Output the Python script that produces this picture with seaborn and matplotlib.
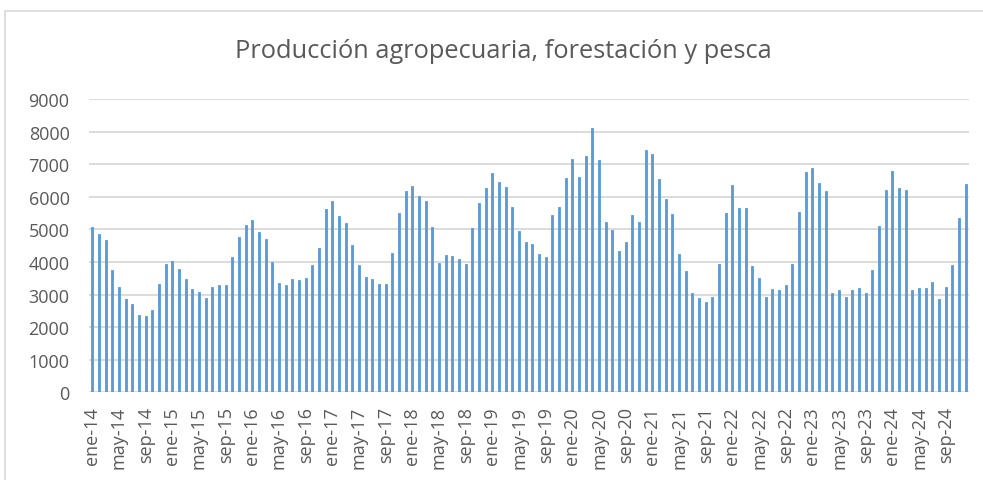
import pandas as pd
import matplotlib.pyplot as plt
from matplotlib.lines import Line2D
import seaborn as sns

# monthly series, ene-14 .. dic-24
meses = ['ene', 'feb', 'mar', 'abr', 'may', 'jun', 'jul', 'ago', 'sep', 'oct', 'nov', 'dic']
anios = list(range(14, 25))
periodos = [f'{m}-{a}' for a in anios for m in meses]

produccion = [
    5077, 4872, 4689, 3749, 3238, 2860, 2697, 2360, 2339, 2533, 3310, 3943,
    4025, 3790, 3483, 3167, 3064, 2891, 3218, 3279, 3279, 4147, 4781, 5138,
    5301, 4934, 4709, 4004, 3340, 3299, 3473, 3432, 3504, 3912, 4443, 5618,
    5873, 5424, 5189, 4535, 3892, 3524, 3483, 3310, 3320, 4290, 5506, 6170,
    6323, 6037, 5873, 5066, 3973, 4229, 4198, 4076, 3933, 5056, 5822, 6282,
    6721, 6466, 6313, 5700, 4954, 4607, 4556, 4259, 4147, 5434, 5700, 6568,
    7160, 6599, 7242, 8100, 7140, 5230, 4985, 4331, 4607, 5434, 5230, 7446,
    7324, 6537, 5945, 5465, 4239, 3718, 3044, 2880, 2758, 2921, 3943, 5506,
    6374, 5669, 5669, 3871, 3514, 2911, 3156, 3126, 3289, 3943, 5526, 6762,
    6895, 6425, 6170, 3054, 3126, 2911, 3136, 3197, 3054, 3749, 5107, 6211,
    6793, 6282, 6221, 3136, 3197, 3187, 3371, 2860, 3238, 3912, 5352, 6405,
]

titulo = 'Producción agropecuaria, forestación y pesca'

df = pd.DataFrame({'periodo': periodos, 'valor': produccion})

sns.set_style('white')
plt.rcParams['font.family'] = ['Open Sans', 'DejaVu Sans']
gris = '#595959'

fig = plt.figure(figsize=(9.83, 4.81), dpi=100)
ax = fig.add_axes([0.0905, 0.1823, 0.8953, 0.6097])

sns.barplot(data=df, x='periodo', y='valor', order=periodos, color='#5B9BD5',
            saturation=1, width=0.3, edgecolor='#5B9BD5', linewidth=0.6,
            ax=ax, zorder=3)

ax.set_xlim(-0.5, len(periodos) - 0.5)
ax.set_ylim(0, 9000)
ax.set_yticks(range(0, 9001, 1000))
ax.set_xticks(range(0, len(periodos), 4))
ax.set_xticklabels(periodos[::4], rotation=90)
ax.set_xlabel('')
ax.set_ylabel('')
ax.tick_params(axis='x', length=0, pad=10, labelsize=13, colors=gris)
ax.tick_params(axis='y', length=0, pad=14, labelsize=13, colors=gris)
ax.grid(axis='y', color='#D9D9D9', linewidth=1.3, zorder=0)
for s in ax.spines.values():
    s.set_visible(False)

fig.text(0.512, 0.892, titulo, ha='center', va='center', fontsize=18.3, color=gris)

# chart frame (cut off at right and bottom)
fig.add_artist(Line2D([0.005, 1.0], [1 - 12 / 481, 1 - 12 / 481], color='#D9D9D9', lw=1.2))
fig.add_artist(Line2D([0.005, 0.005], [0.0, 1 - 12 / 481], color='#D9D9D9', lw=1.2))

fig.savefig('out.png', dpi=100)
